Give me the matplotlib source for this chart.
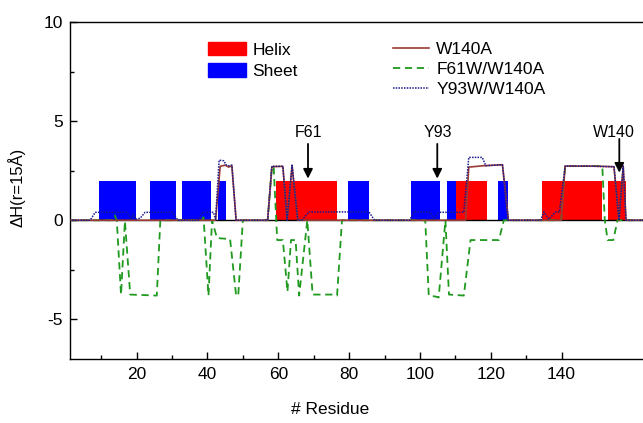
import matplotlib
matplotlib.use("Agg")

import matplotlib.pyplot as plt
from matplotlib.patches import Patch
from matplotlib.lines import Line2D

# secondary structure spans (residue start, residue end)
helix_start = [59.5, 110.1, 134.4, 153.0]
helix_end = [76.6, 119.0, 151.5, 158.1]
sheet_start = [9.4, 23.9, 32.8, 43.1, 79.7, 97.6, 107.7, 122.1]
sheet_end = [19.8, 31.0, 41.0, 45.3, 85.7, 105.6, 110.1, 124.9]
ss_height = 2.0

# W140A
w140a_x = [1, 42.3, 43.6, 45.0, 46.0, 46.9, 48.1, 57.0, 58.2, 61.3, 62.5,
           63.9, 65.5, 112.9, 113.8, 118.0, 123.3, 125.0, 139.9, 141.0,
           148.0, 154.8, 156.2, 157.4, 158.2, 170]
w140a_y = [0, 0, 2.72, 2.78, 2.68, 2.75, 0, 0, 2.70, 2.72, 0,
           2.75, 0, 0, 2.68, 2.75, 2.80, 0, 0, 2.73,
           2.73, 2.70, 0, 2.73, 0, 0]

# F61W/W140A
f61w_x = [1, 12.8, 13.8, 14.4, 15.6, 16.7, 18.2, 25.7, 26.7, 38.4, 38.9,
          40.3, 41.3, 42.7, 46.4, 48.1, 48.7, 50.0, 57.0, 58.2, 58.7,
          59.7, 61.3, 62.6, 63.6, 64.9, 65.9, 68.2, 69.7, 75.8, 76.6,
          78.0, 101.5, 102.5, 104.4, 105.3, 107.2, 108.2, 112.4, 114.3,
          122.3, 123.7, 139.9, 141.0, 151.5, 152.2, 153.0, 154.6, 155.8, 170]
f61w_y = [0, 0, 0.25, 0, -3.75, -0.05, -3.75, -3.80, 0, 0, 0.15,
          -3.80, 0, -0.90, -0.95, -3.80, -3.80, 0, 0, 2.70, 2.70,
          -1.0, -1.0, -3.6, -1.0, -1.0, -3.8, 0, -3.75, -3.75, -3.80,
          0, 0, -3.80, -3.85, -3.90, 0, -3.75, -3.80, -1.0,
          -1.0, 0, 0, 2.73, 2.73, 0, -1.0, -1.0, 0, 0]

# Y93W/W140A
y93w_x = [1, 6.9, 8.3, 17.2, 18.5, 19.1, 19.8, 21.0, 22.4, 30.1, 31.7,
          37.5, 38.6, 41.7, 42.3, 43.3, 44.6, 45.3, 46.0, 46.9, 48.1,
          57.0, 58.2, 61.3, 62.5, 63.9, 65.5, 66.7, 68.6, 85.6, 87.2,
          97.1, 98.3, 103.0, 103.9, 105.3, 112.4, 113.8, 117.6, 118.6,
          123.3, 125.0, 134.1, 135.0, 136.4, 138.3, 139.4, 141.0, 148.0,
          154.8, 156.2, 157.4, 158.2, 170]
y93w_y = [0, 0, 0.40, 0.40, 0.08, 0.30, 0.05, 0.10, 0.40, 0.40, 0,
          0, 0.40, 0.40, 0.05, 3.03, 3.00, 2.78, 2.75, 2.78, 0,
          0, 2.72, 2.72, 0, 2.78, 0, 0, 0.42, 0.42, 0,
          0, 0.42, 0.40, 0.05, 0.40, 0.40, 3.17, 3.17, 2.75,
          2.80, 0, 0, 0.42, 0.05, 0.42, 0.42, 2.73, 2.73,
          2.70, 0, 2.73, 0, 0]

# arrow annotations
site_labels = ["F61", "Y93", "W140"]
site_x = [68.4, 104.9, 156.3]
site_label_x = [68.6, 105.0, 154.8]
site_tip = [2.1, 2.1, 2.4]
site_tail = [3.85, 3.85, 4.1]
site_label_y = 4.43

col_w140a = "#9a3b35"
col_f61w = "#1f9a1f"
col_y93w = "#1a1a8c"

plt.rcParams["font.family"] = ["Liberation Sans", "DejaVu Sans"]
plt.rcParams["axes.unicode_minus"] = False

fig = plt.figure(figsize=(6.43, 4.23), dpi=100)
# axis runs past the right edge of the picture, as in the original crop
ax = fig.add_axes([0.1089, 0.1513, 0.9297, 0.7967])

# =========================
# SECONDARY STRUCTURE BARS
# =========================

ax.bar(helix_start, ss_height,
       width=[e - s for s, e in zip(helix_start, helix_end)],
       align="edge", color="#ff0000", linewidth=0, zorder=1)
ax.bar(sheet_start, ss_height,
       width=[e - s for s, e in zip(sheet_start, sheet_end)],
       align="edge", color="#0000ff", linewidth=0, zorder=1)

ax.axhline(0, color="black", lw=1.0, zorder=2)

# =========================
# LINES
# =========================

ax.plot(f61w_x, f61w_y, color=col_f61w, lw=1.3, dashes=(4, 2.6), zorder=3)
ax.plot(w140a_x, w140a_y, color=col_w140a, lw=1.2, zorder=4)
ax.plot(y93w_x, y93w_y, color=col_y93w, lw=1.1, dashes=(1, 0.8), zorder=5)

# =========================
# ARROWS
# =========================

for lab, x, lx, tip, tail in zip(site_labels, site_x, site_label_x,
                                 site_tip, site_tail):
    ax.annotate("", xy=(x, tip), xytext=(x, tail),
                arrowprops=dict(arrowstyle="-|>", color="black", lw=1.3,
                                mutation_scale=14, shrinkA=0, shrinkB=0),
                zorder=6)
    ax.text(lx, site_label_y, lab, ha="center", va="center", fontsize=11.5)

# =========================
# AXES
# =========================

ax.set_xlim(1.2, 170)
ax.set_ylim(-7, 10)
ax.set_xticks([20, 40, 60, 80, 100, 120, 140])
ax.set_xticks([10, 30, 50, 70, 90, 110, 130], minor=True)
ax.set_yticks([-5, 0, 5, 10])
ax.set_yticks([-2.5, 2.5, 7.5], minor=True)
ax.tick_params(which="both", direction="in", width=1.0, labelsize=12.5)
ax.tick_params(which="major", length=5)
ax.tick_params(which="minor", length=3)
ax.tick_params(axis="y", pad=5)
ax.tick_params(axis="x", pad=6)
ax.spines["right"].set_visible(False)
for sp in ["left", "bottom", "top"]:
    ax.spines[sp].set_linewidth(1.0)

ax.set_ylabel("ΔH(r=15Å)", fontsize=12)
ax.yaxis.set_label_coords(-0.074, 0.51)
ax.set_xlabel("# Residue", fontsize=12.5)
ax.xaxis.set_label_coords((74.7 - 1.2) / (170 - 1.2), -0.128)

# =========================
# LEGENDS
# =========================

ss_handles = [Patch(color="#ff0000", label="Helix"),
              Patch(color="#0000ff", label="Sheet")]
leg1 = fig.legend(handles=ss_handles, loc="upper left",
                  bbox_to_anchor=(208 / 643, 1 - 42 / 423),
                  frameon=False, fontsize=12.5, borderpad=0,
                  borderaxespad=0, handlelength=2.2, handleheight=0.8,
                  handletextpad=0.35, labelspacing=0.32)

line_handles = [Line2D([], [], color=col_w140a, lw=1.2, label="W140A"),
                Line2D([], [], color=col_f61w, lw=1.3, dashes=(4, 2.6),
                       label="F61W/W140A"),
                Line2D([], [], color=col_y93w, lw=1.1, dashes=(1, 0.8),
                       label="Y93W/W140A")]
leg2 = fig.legend(handles=line_handles, loc="upper left",
                  bbox_to_anchor=(393 / 643, 1 - 42 / 423),
                  frameon=False, fontsize=12.5, borderpad=0,
                  borderaxespad=0, handlelength=2.1, handletextpad=0.4,
                  labelspacing=0.28)

fig.savefig("out.png", dpi=100)
plt.close(fig)
